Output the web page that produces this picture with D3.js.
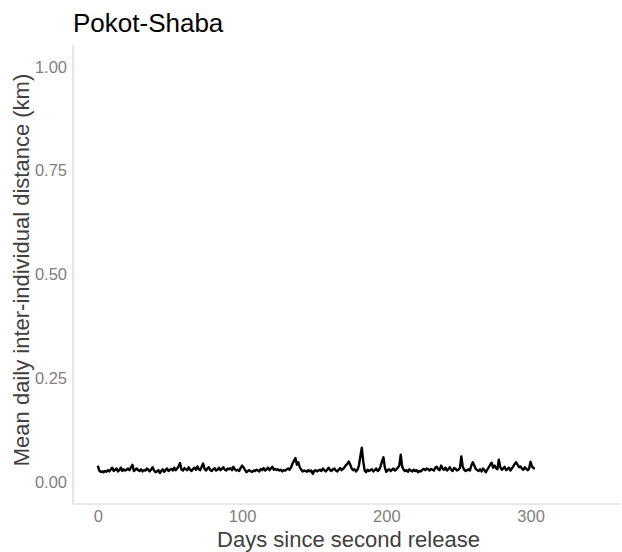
<!DOCTYPE html>
<html>
<head>
<meta charset="utf-8">
<script src="https://cdn.jsdelivr.net/npm/d3@7"></script>
<style>
  body { margin: 0; background: #fff; }
  svg { font-family: "Liberation Sans", Arial, sans-serif; }
</style>
</head>
<body>
<svg id="chart"></svg>
<script>
// chart data
var title = "Pokot-Shaba";
var xLabel = "Days since second release";
var yLabel = "Mean daily inter-individual distance (km)";
var xTicks = [0, 100, 200, 300];
var yTicks = [0, 0.25, 0.5, 0.75, 1];

// mean distance per day, from day 0
var distance = [
  0.040, 0.028, 0.025, 0.026, 0.024, 0.027, 0.025, 0.029, 0.026, 0.031,
  0.035, 0.027, 0.030, 0.033, 0.026, 0.029, 0.035, 0.027, 0.031, 0.028,
  0.030, 0.033, 0.029, 0.036, 0.042, 0.027, 0.030, 0.033, 0.029, 0.027,
  0.031, 0.026, 0.029, 0.028, 0.033, 0.030, 0.026, 0.031, 0.036, 0.028,
  0.024, 0.026, 0.029, 0.022, 0.027, 0.031, 0.025, 0.029, 0.033, 0.027,
  0.030, 0.032, 0.028, 0.035, 0.029, 0.033, 0.038, 0.046, 0.030, 0.028,
  0.034, 0.031, 0.029, 0.036, 0.030, 0.027, 0.032, 0.035, 0.030, 0.038,
  0.031, 0.029, 0.037, 0.045, 0.032, 0.028, 0.033, 0.036, 0.029, 0.027,
  0.031, 0.034, 0.028, 0.030, 0.035, 0.029, 0.032, 0.036, 0.030, 0.028,
  0.033, 0.031, 0.034, 0.029, 0.037, 0.031, 0.028, 0.030, 0.027, 0.034,
  0.040, 0.036, 0.030, 0.024, 0.027, 0.029, 0.026, 0.025, 0.028, 0.027,
  0.030, 0.028, 0.026, 0.032, 0.029, 0.034, 0.028, 0.031, 0.035, 0.029,
  0.033, 0.037, 0.030, 0.032, 0.029, 0.031, 0.028, 0.030, 0.026, 0.029,
  0.028, 0.031, 0.033, 0.030, 0.036, 0.045, 0.052, 0.058, 0.042, 0.048,
  0.036, 0.030, 0.026, 0.028, 0.027, 0.025, 0.029, 0.026, 0.028, 0.020,
  0.027, 0.029, 0.026, 0.028, 0.030, 0.027, 0.033, 0.029, 0.026, 0.030,
  0.035, 0.029, 0.027, 0.031, 0.033, 0.028, 0.026, 0.030, 0.034, 0.029,
  0.032, 0.036, 0.041, 0.044, 0.050, 0.042, 0.033, 0.029, 0.031, 0.026,
  0.030, 0.040, 0.062, 0.083, 0.050, 0.028, 0.024, 0.030, 0.027, 0.029,
  0.031, 0.026, 0.029, 0.033, 0.027, 0.030, 0.038, 0.050, 0.060, 0.035,
  0.025, 0.029, 0.031, 0.027, 0.030, 0.033, 0.028, 0.031, 0.035, 0.040,
  0.066, 0.038, 0.030, 0.027, 0.029, 0.025, 0.031, 0.028, 0.026, 0.030,
  0.027, 0.029, 0.024, 0.027, 0.026, 0.030, 0.032, 0.029, 0.033, 0.031,
  0.028, 0.032, 0.030, 0.028, 0.035, 0.037, 0.031, 0.029, 0.040, 0.033,
  0.030, 0.035, 0.028, 0.031, 0.036, 0.030, 0.027, 0.034, 0.032, 0.028,
  0.030, 0.034, 0.062, 0.037, 0.030, 0.027, 0.029, 0.031, 0.028, 0.041,
  0.048, 0.040, 0.032, 0.029, 0.027, 0.031, 0.026, 0.033, 0.029, 0.024,
  0.030, 0.036, 0.042, 0.047, 0.035, 0.040, 0.034, 0.031, 0.054, 0.036,
  0.030, 0.033, 0.037, 0.029, 0.031, 0.035, 0.028, 0.033, 0.038, 0.044,
  0.048, 0.042, 0.036, 0.038, 0.033, 0.030, 0.036, 0.032, 0.029, 0.033,
  0.049, 0.038, 0.034, 0.033
];

var data = distance.map(function(v, i) { return { day: i, dist: v }; });

var W = 622, H = 552;
var margin = { top: 45, right: 2, bottom: 48, left: 73 };
var width = W - margin.left - margin.right,
    height = H - margin.top - margin.bottom;

var svg = d3.select("#chart")
  .attr("width", W)
  .attr("height", H);

var g = svg.append("g")
  .attr("transform", "translate(" + margin.left + "," + margin.top + ")");

// scales, ggplot style 5% expansion
var x = d3.scaleLinear().domain([-17.2, 362]).range([0, width]);
var y = d3.scaleLinear().domain([-0.0525, 1.0525]).range([height, 0]);

// axis lines
g.append("line")
  .attr("x1", 0).attr("x2", 0).attr("y1", 0).attr("y2", height)
  .attr("stroke", "#d4d4d4").attr("stroke-width", 1.2);
g.append("line")
  .attr("x1", 0).attr("x2", width).attr("y1", height).attr("y2", height)
  .attr("stroke", "#d4d4d4").attr("stroke-width", 1.2);

// tick labels
var yAxis = g.append("g")
  .call(d3.axisLeft(y).tickValues(yTicks).tickFormat(d3.format(".2f")).tickSize(0).tickPadding(6));
yAxis.select(".domain").remove();
yAxis.selectAll("text")
  .attr("fill", "#7f7f7f")
  .style("font-size", "16.5px")
  .style("font-family", "Liberation Sans, Arial, sans-serif");

var xAxis = g.append("g")
  .attr("transform", "translate(0," + height + ")")
  .call(d3.axisBottom(x).tickValues(xTicks).tickFormat(d3.format("d")).tickSize(0).tickPadding(6));
xAxis.select(".domain").remove();
xAxis.selectAll("text")
  .attr("fill", "#7f7f7f")
  .style("font-size", "16.5px")
  .style("font-family", "Liberation Sans, Arial, sans-serif");

// the line
var line = d3.line()
  .x(function(d) { return x(d.day); })
  .y(function(d) { return y(d.dist); });

g.append("path")
  .datum(data)
  .attr("fill", "none")
  .attr("stroke", "#000")
  .attr("stroke-width", 2.4)
  .attr("stroke-linejoin", "round")
  .attr("d", line);

// title
svg.append("text")
  .attr("x", 73)
  .attr("y", 32)
  .attr("fill", "#000")
  .style("font-size", "26px")
  .text(title);

// axis titles
svg.append("text")
  .attr("x", margin.left + width / 2 + 2)
  .attr("y", 547)
  .attr("text-anchor", "middle")
  .attr("fill", "#404040")
  .style("font-size", "22px")
  .text(xLabel);

svg.append("text")
  .attr("transform", "translate(29,270) rotate(-90)")
  .attr("text-anchor", "middle")
  .attr("fill", "#404040")
  .style("font-size", "22px")
  .text(yLabel);
</script>
</body>
</html>
